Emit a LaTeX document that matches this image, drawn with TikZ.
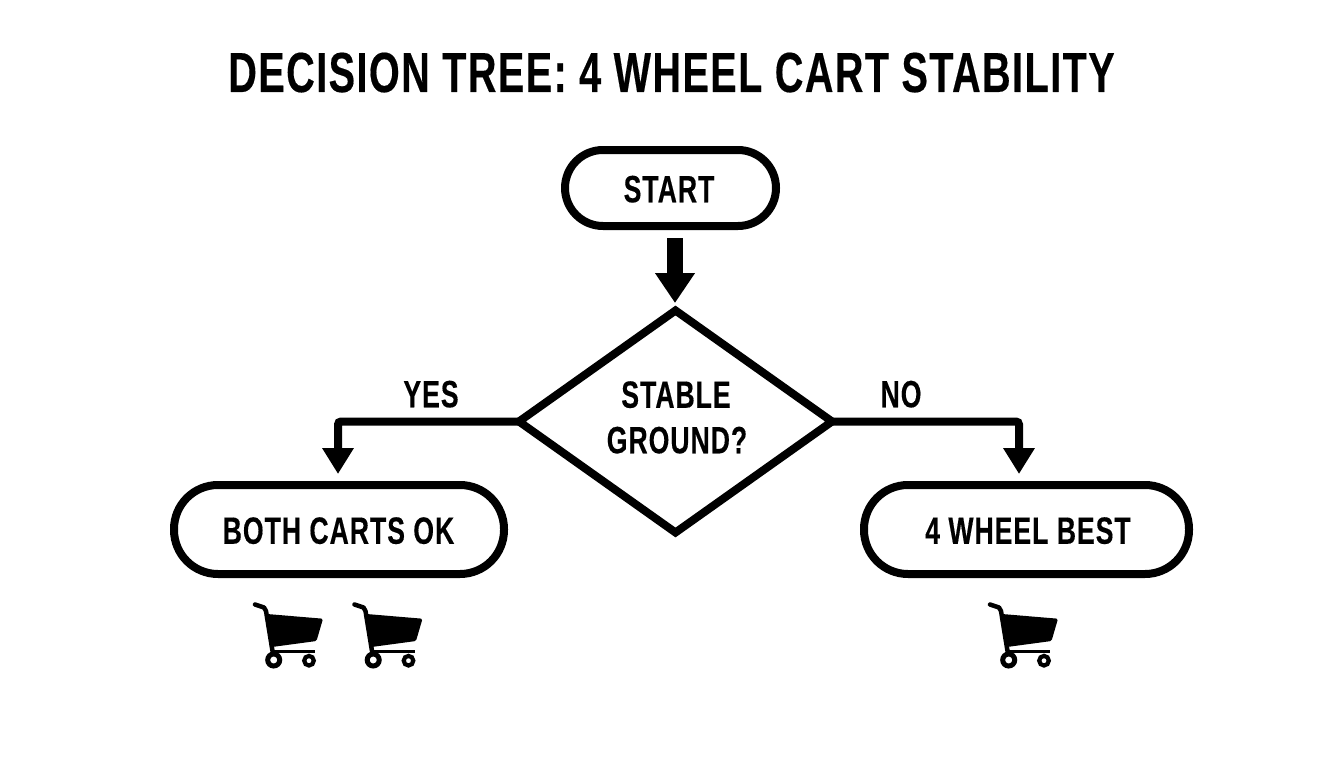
\documentclass[tikz,border=0pt]{standalone}
\usepackage{fontspec}
\setmainfont{Liberation Sans}[BoldFont={Liberation Sans Bold}]
\newfontfamily\cond{Liberation Sans Bold}[FakeStretch=0.70,FakeBold=0.3,LetterSpace=2.6]
\usetikzlibrary{arrows.meta,shapes.geometric}
\tikzset{
  pill/.style={draw=black,line width=8pt,fill=white,rectangle,rounded corners=#1,inner sep=0pt,outer sep=0pt},
  dia/.style={draw=black,line width=8pt,fill=white,diamond,inner sep=0pt,outer sep=0pt,minimum width=313pt,minimum height=222pt},
  lbl/.style={inner sep=0pt,outer sep=0pt,text=black,text depth=0pt,text height=27.5pt,font=\cond\fontsize{38}{42}\selectfont},
  conn/.style={draw=black,line width=8pt,rounded corners=3pt,-{Triangle[length=26pt,width=30pt]}},
  bigconn/.style={draw=black,line width=16pt,-{Triangle[length=30pt,width=38pt]}},
}
\newcommand{\cartat}[2]{%
\begin{scope}[shift={(#1,#2)}]
  \draw[black,line width=4.5pt,line cap=round,line join=round] (15,14.5) -- (24,17.5) -- (26,21) -- (32.5,61);
  \fill[black,rounded corners=1.5pt] (27,24) -- (83,28.7) -- (76.5,51) -- (32,57) -- cycle;
  \draw[black,line width=3.6pt] (32,61.5) -- (75,61.5);
  \draw[black,line width=5pt,fill=white] (33.7,70) circle (6pt);
  \draw[black,line width=4.2pt,fill=white] (69,70.7) circle (4.8pt);
\end{scope}}
\begin{document}
\begin{tikzpicture}[x=1pt,y=-1pt]
\useasboundingbox (0,0) rectangle (1344,768);
\fill[white] (0,0) rectangle (1344,768);
\node[inner sep=0pt,text depth=0pt,text height=41pt,font=\cond\fontsize{56.5}{62}\selectfont] (title) at (671.5,71.5) {DECISION TREE: 4 WHEEL CART STABILITY};
\node[pill=38pt,minimum width=211pt,minimum height=76pt] (start) at (670.5,188) {};
\node[dia] (q) at (675.5,421.5) {};
\node[pill=44pt,minimum width=330pt,minimum height=89pt] (both) at (339,529.5) {};
\node[pill=44pt,minimum width=325pt,minimum height=89pt] (best) at (1026.5,529.5) {};
\node[lbl] (tstart) at (669,188.5) {START};
\node[lbl] (t1) at (676,394) {STABLE};
\node[lbl] (t2) at (677,439.5) {GROUND?};
\node[lbl] (tboth) at (338.5,530) {BOTH CARTS OK};
\node[lbl] (tbest) at (1028,530) {4 WHEEL BEST};
\node[lbl] (yes) at (431,393.5) {YES};
\node[lbl] (no) at (901,393.5) {NO};
\coordinate (startout) at (675,226);
\coordinate (qtop) at (675,314);
\coordinate (yesin) at (338,485);
\coordinate (noin) at (1019,485);
\draw[bigconn,shorten <=12pt,shorten >=11pt] (startout) -- (qtop);
\draw[conn,shorten >=11pt] (q.west) -| (yesin);
\draw[conn,shorten >=11pt] (q.east) -| (noin);
\cartat{240}{590}
\cartat{339.5}{590}
\cartat{975}{590}
\end{tikzpicture}
\end{document}
